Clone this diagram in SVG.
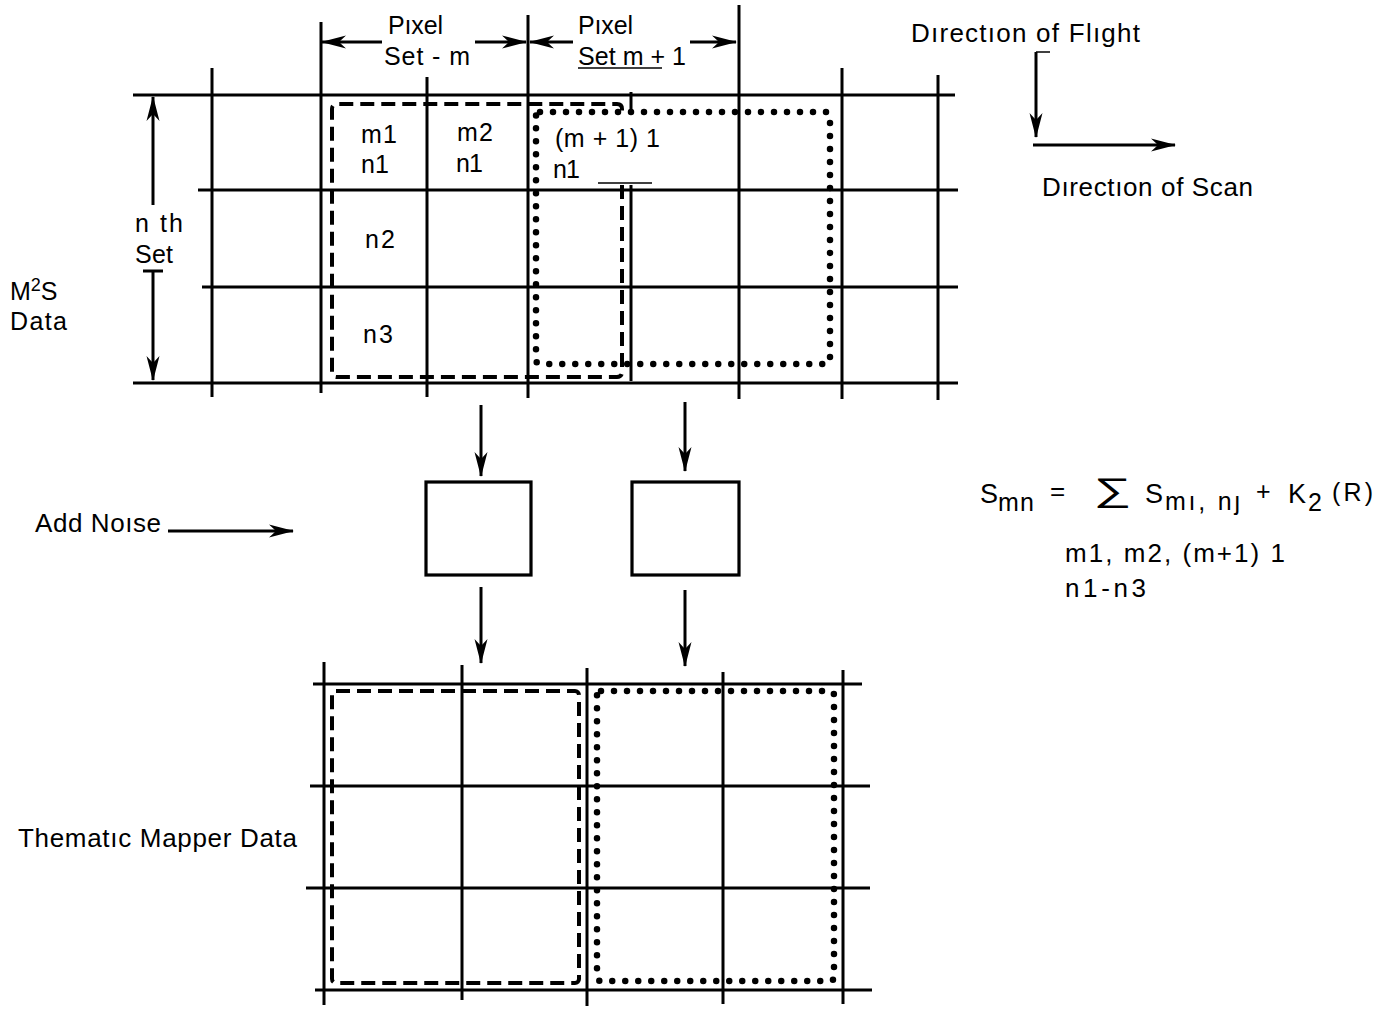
<svg xmlns="http://www.w3.org/2000/svg" width="1395" height="1011" viewBox="0 0 1395 1011">
<style>
.g{stroke:#000;stroke-width:3;fill:none}
.thin{stroke:#000;stroke-width:1.5;fill:none}
.t{font-family:"Liberation Sans",Arial,"DejaVu Sans",sans-serif;fill:#000}
.dash{stroke:#000;stroke-width:4;fill:none;stroke-dasharray:14 7}
.dot{stroke:#000;stroke-width:6.5;fill:none;stroke-dasharray:0 13;stroke-linecap:round}
.box{stroke:#000;stroke-width:3.2;fill:#fff}
.arr{stroke:#000;stroke-width:3;fill:none;marker-end:url(#ah)}
</style>
<defs>
<marker id="ah" markerUnits="userSpaceOnUse" markerWidth="28" markerHeight="16" refX="24" refY="7" orient="auto" overflow="visible">
<path d="M25,7 L0,0.5 L7,7 L0,13.5 Z" fill="#000"/>
</marker>
</defs>

<g id="top-grid">
<line class="g" x1="133" y1="95" x2="955" y2="95"/>
<line class="g" x1="198" y1="190" x2="958" y2="190"/>
<line class="g" x1="202" y1="287" x2="958" y2="287"/>
<line class="g" x1="133" y1="383" x2="958" y2="383"/>
<line class="g" x1="212" y1="68" x2="212" y2="397"/>
<line class="g" x1="321" y1="22" x2="321" y2="393"/>
<line class="g" x1="427" y1="77" x2="427" y2="397"/>
<line class="g" x1="528" y1="15" x2="528" y2="398"/>
<line class="g" x1="631" y1="92" x2="631" y2="113"/>
<line class="g" x1="631" y1="185" x2="631" y2="381"/>
<line class="g" x1="739" y1="5" x2="739" y2="399"/>
<line class="g" x1="842" y1="68" x2="842" y2="399"/>
<line class="g" x1="938" y1="75" x2="938" y2="400"/>
<line class="thin" x1="598" y1="183" x2="652" y2="183"/>
</g>

<g id="pixel-set-m">
<path class="dash" d="M622,185 L622,372 Q622,377 617,377 L337,377 Q332,377 332,372 L332,109 Q332,104 337,104 L617,104 Q622,104 622,109 L622,112"/>
</g>
<g id="pixel-set-m1">
<rect class="dot" x="536" y="112" width="294" height="252" rx="4"/>
</g>

<g id="bottom-grid">
<line class="g" x1="313" y1="684" x2="862" y2="684"/>
<line class="g" x1="310" y1="786" x2="870" y2="786"/>
<line class="g" x1="306" y1="888" x2="870" y2="888"/>
<line class="g" x1="315" y1="990" x2="872" y2="990"/>
<line class="g" x1="324" y1="662" x2="324" y2="1005"/>
<line class="g" x1="462" y1="665" x2="462" y2="1000"/>
<line class="g" x1="587" y1="668" x2="587" y2="1006"/>
<line class="g" x1="723" y1="672" x2="723" y2="1004"/>
<line class="g" x1="843" y1="670" x2="843" y2="1004"/>
<rect class="dash" x="332" y="691" width="247" height="292" rx="4"/>
<rect class="dot" x="597" y="691" width="237" height="290" rx="4"/>
</g>

<g id="noise-box-1"><rect class="box" x="426" y="482" width="105" height="93"/></g>
<g id="noise-box-2"><rect class="box" x="632" y="482" width="107" height="93"/></g>

<g id="connectors">
<line class="arr" x1="382" y1="42" x2="322" y2="42"/>
<line class="arr" x1="475" y1="42" x2="526" y2="42"/>
<line class="arr" x1="573" y1="42" x2="530" y2="42"/>
<line class="arr" x1="690" y1="42" x2="736" y2="42"/>
<line class="arr" x1="153" y1="205" x2="153" y2="97"/>
<line class="arr" x1="153" y1="271" x2="153" y2="380"/>
<line class="g" x1="143" y1="271" x2="163" y2="271"/>
<line class="arr" x1="1036" y1="52" x2="1036" y2="137"/>
<line class="thin" x1="1036" y1="52" x2="1050" y2="52"/>
<line class="arr" x1="1033" y1="145" x2="1175" y2="145"/>
<line class="arr" x1="481" y1="405" x2="481" y2="476"/>
<line class="arr" x1="685" y1="402" x2="685" y2="471"/>
<line class="arr" x1="481" y1="587" x2="481" y2="663"/>
<line class="arr" x1="685" y1="590" x2="685" y2="666"/>
<line class="arr" x1="168" y1="531" x2="293" y2="531"/>
</g>

<g id="labels" font-size="25">
<text class="t" x="388" y="34" textLength="55" lengthAdjust="spacing">Pıxel</text>
<text class="t" x="384" y="65" textLength="86" lengthAdjust="spacing">Set - m</text>
<text class="t" x="578" y="34" textLength="55" lengthAdjust="spacing">Pıxel</text>
<text class="t" x="578" y="65" textLength="108" lengthAdjust="spacing">Set m + 1</text>
<line class="thin" x1="578" y1="68" x2="662" y2="68"/>
<text class="t" x="911" y="42" font-size="26" textLength="229" lengthAdjust="spacing">Dırectıon of Flıght</text>
<text class="t" x="1042" y="196" font-size="26" textLength="211" lengthAdjust="spacing">Dırectıon of Scan</text>
<text class="t" x="361" y="143" textLength="36" lengthAdjust="spacing">m1</text>
<text class="t" x="361" y="173" textLength="28" lengthAdjust="spacing">n1</text>
<text class="t" x="457" y="141" textLength="36" lengthAdjust="spacing">m2</text>
<text class="t" x="456" y="172" textLength="27" lengthAdjust="spacing">n1</text>
<text class="t" x="365" y="248" textLength="30" lengthAdjust="spacing">n2</text>
<text class="t" x="363" y="343" textLength="30" lengthAdjust="spacing">n3</text>
<text class="t" x="555" y="147" textLength="105" lengthAdjust="spacing">(m + 1) 1</text>
<text class="t" x="553" y="178" textLength="27" lengthAdjust="spacing">n1</text>
<text class="t" x="135" y="232" textLength="48" lengthAdjust="spacing">n th</text>
<text class="t" x="135" y="263" textLength="38" lengthAdjust="spacing">Set</text>
<text class="t" x="10" y="300">M<tspan dy="-9" font-size="18">2</tspan><tspan dy="9">S</tspan></text>
<text class="t" x="10" y="330" textLength="57" lengthAdjust="spacing">Data</text>
<text class="t" x="35" y="532" font-size="26" textLength="126" lengthAdjust="spacing">Add Noıse</text>
<text class="t" x="18" y="847" font-size="26" textLength="279" lengthAdjust="spacing">Thematıc Mapper Data</text>
</g>

<g id="formula" font-size="25">
<text class="t" x="980" y="503" font-size="27">S</text>
<text class="t" x="998" y="511" font-size="25" textLength="36" lengthAdjust="spacing">mn</text>
<text class="t" x="1050" y="500" font-size="26">=</text>
<text class="t" transform="translate(1094,501) scale(1.6,1)" font-size="33">∑</text>
<text class="t" x="1145" y="503" font-size="27">S</text>
<text class="t" x="1165" y="510" font-size="25" textLength="75" lengthAdjust="spacing">mı, nȷ</text>
<text class="t" x="1256" y="500" font-size="25">+</text>
<text class="t" x="1288" y="503" font-size="27">K</text>
<text class="t" x="1308" y="511" font-size="25">2</text>
<text class="t" x="1332" y="501" font-size="25" textLength="41" lengthAdjust="spacing">(R)</text>
<text class="t" x="1065" y="562" font-size="26" textLength="220" lengthAdjust="spacing">m1, m2, (m+1) 1</text>
<text class="t" x="1065" y="597" font-size="26" textLength="81" lengthAdjust="spacing">n1-n3</text>
</g>
</svg>
